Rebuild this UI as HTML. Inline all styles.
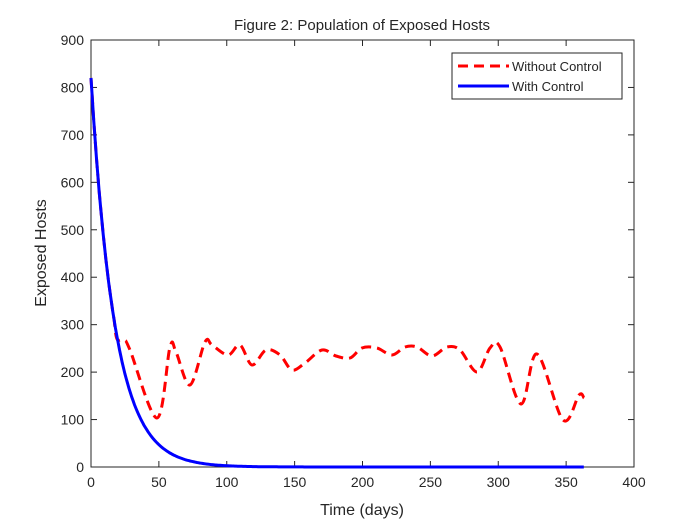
<!DOCTYPE html>
<html><head><style>body{margin:0;background:#fff}svg{display:block}text{font-family:"Liberation Sans",Arial,sans-serif;fill:#262626}</style></head>
<body>
<svg id="s" width="700" height="525" xmlns="http://www.w3.org/2000/svg">
<rect x="91" y="40" width="543" height="427" fill="#fff" stroke="#262626" stroke-width="1"/>
<g id="ticks" stroke="#262626" stroke-width="1"></g>
<g id="labels" font-size="14"></g>
<text x="362" y="30" font-size="15" text-anchor="middle">Figure 2: Population of Exposed Hosts</text>
<text x="362" y="515" font-size="16" text-anchor="middle">Time (days)</text>
<text transform="translate(46,253) rotate(-90)" font-size="16" text-anchor="middle">Exposed Hosts</text>
<path id="red" fill="none" stroke="#ff0000" stroke-width="3" stroke-dasharray="10,6"/>
<path id="blue" fill="none" stroke="#0000ff" stroke-width="3"/>
<rect x="452" y="53" width="170" height="46" fill="#fff" stroke="#262626" stroke-width="1"/>
<line x1="458" y1="66" x2="509" y2="66" stroke="#ff0000" stroke-width="3" stroke-dasharray="10,6"/>
<line x1="458" y1="86" x2="509" y2="86" stroke="#0000ff" stroke-width="3"/>
<text x="512" y="71" font-size="13">Without Control</text>
<text x="512" y="91" font-size="13">With Control</text>
</svg>
<script>
var X=t=>91+t*543/400, Y=v=>467-v*427/900;
var tk=document.getElementById('ticks'),lb=document.getElementById('labels'),h='',l='';
for(var i=0;i<=400;i+=50){var x=X(i);h+=`<line x1="${x}" y1="467" x2="${x}" y2="461"/><line x1="${x}" y1="40" x2="${x}" y2="46"/>`;l+=`<text x="${x}" y="487" text-anchor="middle">${i}</text>`;}
for(var v=0;v<=900;v+=100){var y=Y(v);h+=`<line x1="91" y1="${y}" x2="97" y2="${y}"/><line x1="634" y1="${y}" x2="628" y2="${y}"/>`;l+=`<text x="84" y="${y+5}" text-anchor="end">${v}</text>`;}
tk.innerHTML=h;lb.innerHTML=l;
var f=t=>820*Math.exp(-t/17.5),b='';
for(var t=0;t<=363;t+=1)b+=(t?'L':'M')+X(t).toFixed(1)+','+Y(f(t)).toFixed(1);
document.getElementById('blue').setAttribute('d',b);
var pts=[];for(t=0;t<=17;t++)pts.push([X(t),Y(f(t))]);
[[117,339],[124,340],[130,350],[157,418],[170,347],[176,352],[190,385],[205,342],[212,345],[228,355],[240,345],[252,365],[266,350],[280,355],[292,370],[305,363],[322,350],[336,356],[350,358],[362,348],[377,348],[392,355],[405,347],[417,347],[432,356],[447,347],[460,350],[477,372],[490,348],[500,347],[521,404],[537,354],[563,420],[579,395],[584,398]].forEach(p=>pts.push(p));
var r='M'+pts[0][0]+','+pts[0][1];
for(var k=0;k<pts.length-1;k++){var p0=pts[Math.max(k-1,0)],p1=pts[k],p2=pts[k+1],p3=pts[Math.min(k+2,pts.length-1)];
var c1=[p1[0]+(p2[0]-p0[0])/6,p1[1]+(p2[1]-p0[1])/6],c2=[p2[0]-(p3[0]-p1[0])/6,p2[1]-(p3[1]-p1[1])/6];
r+=`C${c1[0].toFixed(1)},${c1[1].toFixed(1)} ${c2[0].toFixed(1)},${c2[1].toFixed(1)} ${p2[0].toFixed(1)},${p2[1].toFixed(1)}`;}
document.getElementById('red').setAttribute('d',r);
</script>
</body></html>
